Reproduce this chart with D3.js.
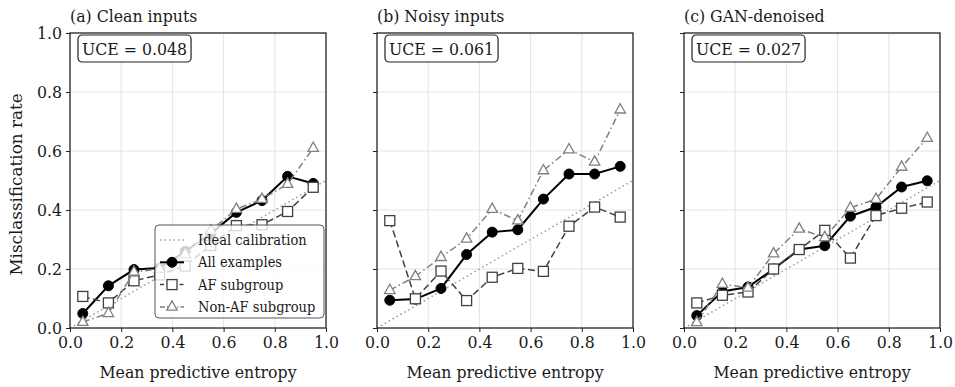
<!DOCTYPE html>
<html>
<head>
<meta charset="utf-8">
<script src="https://cdn.jsdelivr.net/npm/d3@7"></script>
<style>
body { margin: 0; background: #fff; }
text { font-family: "DejaVu Serif Condensed", "DejaVu Serif", serif; font-stretch: condensed; }
</style>
</head>
<body>
<div id="chart"></div>
<script>
// bin centres (mean predictive entropy)
var bins = [0.05, 0.15, 0.25, 0.35, 0.45, 0.55, 0.65, 0.75, 0.85, 0.95]

var panelTitles = ["(a) Clean inputs", "(b) Noisy inputs", "(c) GAN-denoised"]
var uceValues = ["0.048", "0.061", "0.027"]

var allClean = [0.049, 0.143, 0.198, 0.203, 0.26, 0.32, 0.392, 0.432, 0.514, 0.49]
var afClean = [0.107, 0.085, 0.16, 0.18, 0.21, 0.28, 0.347, 0.35, 0.395, 0.477]
var nonAfClean = [0.02, 0.05, 0.19, 0.2, 0.25, 0.33, 0.403, 0.437, 0.488, 0.61]

var allNoisy = [0.094, 0.098, 0.134, 0.249, 0.325, 0.333, 0.437, 0.522, 0.522, 0.548]
var afNoisy = [0.364, 0.099, 0.193, 0.093, 0.172, 0.202, 0.192, 0.345, 0.41, 0.376]
var nonAfNoisy = [0.128, 0.175, 0.24, 0.302, 0.403, 0.364, 0.534, 0.605, 0.563, 0.74]

var allGan = [0.042, 0.124, 0.139, 0.2, 0.266, 0.279, 0.379, 0.41, 0.478, 0.499]
var afGan = [0.085, 0.111, 0.122, 0.2, 0.266, 0.331, 0.237, 0.381, 0.406, 0.427]
var nonAfGan = [0.019, 0.149, 0.136, 0.252, 0.336, 0.307, 0.407, 0.437, 0.546, 0.644]

var ticks = [0, 0.2, 0.4, 0.6, 0.8, 1.0]
var idealLine = [[0, 0], [1, 0.5]]
var legendLabels = ["Ideal calibration", "All examples", "AF subgroup", "Non-AF subgroup"]

var panels = [
    { all: allClean, af: afClean, nonAf: nonAfClean },
    { all: allNoisy, af: afNoisy, nonAf: nonAfNoisy },
    { all: allGan, af: afGan, nonAf: nonAfGan }
]

var svgWidth = 955
var svgHeight = 387
var panelLeft = [70, 377, 684]
var panelWidth = 256
var panelTop = 33
var chartHeight = 295
var fontSize = "17.5px"

var svg = d3.select("#chart")
    .append("svg")
    .attr("width", svgWidth)
    .attr("height", svgHeight)

var styles = {
    ideal: { stroke: "#9a9a9a", dash: "1.5,3", width: 1.5 },
    all: { stroke: "#000", dash: null, width: 2 },
    af: { stroke: "#404040", dash: "7,3.5", width: 1.5 },
    nonAf: { stroke: "#808080", dash: "7,3,1.5,3", width: 1.5 }
}

function drawMarker(g, kind, x, y) {
    if (kind === "all") {
        g.append("circle").attr("cx", x).attr("cy", y).attr("r", 5)
            .attr("fill", "#000").attr("stroke", "#000")
    } else if (kind === "af") {
        g.append("rect").attr("x", x - 5).attr("y", y - 5).attr("width", 10).attr("height", 10)
            .attr("fill", "#fff").attr("stroke", "#404040").attr("stroke-width", 1.3)
    } else {
        var s = 6
        g.append("path")
            .attr("d", `M${x},${y - s} L${x + s * 0.87},${y + s * 0.55} L${x - s * 0.87},${y + s * 0.55} Z`)
            .attr("fill", "#fff").attr("stroke", "#808080").attr("stroke-width", 1.3)
    }
}

panels.forEach(function (p, i) {
    var xScale = d3.scaleLinear().domain([0, 1]).range([0, panelWidth])
    var yScale = d3.scaleLinear().domain([0, 1]).range([chartHeight, 0])

    var g = svg.append("g")
        .attr("transform", `translate(${panelLeft[i]},${panelTop})`)

    // grid
    g.append("g").selectAll("line.gx").data(ticks.slice(1, -1)).enter()
        .append("line")
        .attr("x1", d => xScale(d)).attr("x2", d => xScale(d))
        .attr("y1", 0).attr("y2", chartHeight)
        .attr("stroke", "#e3e3e3").attr("stroke-width", 1)
    g.append("g").selectAll("line.gy").data(ticks.slice(1, -1)).enter()
        .append("line")
        .attr("y1", d => yScale(d)).attr("y2", d => yScale(d))
        .attr("x1", 0).attr("x2", panelWidth)
        .attr("stroke", "#e3e3e3").attr("stroke-width", 1)

    var line = d3.line().x(d => xScale(d[0])).y(d => yScale(d[1]))

    var clip = "clip" + i
    g.append("clipPath").attr("id", clip).append("rect")
        .attr("width", panelWidth).attr("height", chartHeight)

    var plot = g.append("g").attr("clip-path", `url(#${clip})`)
    plot.append("path")
        .datum(idealLine)
        .attr("d", line)
        .attr("fill", "none")
        .attr("stroke", styles.ideal.stroke)
        .attr("stroke-width", styles.ideal.width)
        .attr("stroke-dasharray", styles.ideal.dash)

    var marks = g.append("g")
    ;["all", "af", "nonAf"].forEach(function (kind) {
        var pts = bins.map((b, j) => [b, p[kind][j]])
        marks.append("path")
            .datum(pts)
            .attr("d", line)
            .attr("fill", "none")
            .attr("stroke", styles[kind].stroke)
            .attr("stroke-width", styles[kind].width)
            .attr("stroke-dasharray", styles[kind].dash)
        pts.forEach(d => drawMarker(marks, kind, xScale(d[0]), yScale(d[1])))
    })

    // axes
    var bottomAxis = d3.axisBottom(xScale).tickValues(ticks).tickFormat(d3.format(".1f"))
        .tickSize(4).tickPadding(4)
    var leftAxis = d3.axisLeft(yScale).tickValues(ticks).tickFormat(i === 0 ? d3.format(".1f") : "")
        .tickSize(4).tickPadding(4)
    var xAxis = g.append("g").attr("transform", `translate(0,${chartHeight})`).call(bottomAxis)
    var yAxis = g.append("g").call(leftAxis)
    ;[xAxis, yAxis].forEach(function (ax) {
        ax.select(".domain").remove()
        ax.selectAll("line").attr("stroke", "#222")
        ax.selectAll("text").attr("font-size", fontSize).attr("fill", "#1a1a1a")
            .attr("font-family", null)
    })

    g.append("rect")
        .attr("width", panelWidth).attr("height", chartHeight)
        .attr("fill", "none").attr("stroke", "#222").attr("stroke-width", 1.3)

    // title
    g.append("text")
        .attr("x", 0).attr("y", -11)
        .attr("font-size", fontSize).attr("fill", "#1a1a1a")
        .text(panelTitles[i])

    g.append("text")
        .attr("x", panelWidth / 2).attr("y", chartHeight + 50)
        .attr("text-anchor", "middle")
        .attr("font-size", fontSize).attr("fill", "#1a1a1a")
        .text("Mean predictive entropy")

    // UCE box
    var uce = g.append("g").attr("transform", "translate(6,2)")
    var uceText = uce.append("text")
        .attr("x", 6).attr("y", 20)
        .attr("font-size", fontSize).attr("fill", "#1a1a1a")
        .text("UCE = " + uceValues[i])
    var bb = uceText.node().getBBox()
    uce.insert("rect", "text")
        .attr("x", bb.x - 4).attr("y", 0)
        .attr("width", bb.width + 8).attr("height", 27)
        .attr("rx", 4)
        .attr("fill", "#fff").attr("stroke", "#222").attr("stroke-width", 1.2)

    if (i === 0) {
        var lg = g.append("g").attr("transform", `translate(${85},${192})`)
        lg.append("rect")
            .attr("width", 169).attr("height", 93).attr("rx", 4)
            .attr("fill", "#fff").attr("fill-opacity", 0.8)
            .attr("stroke", "#555").attr("stroke-width", 1)
        var kinds = ["ideal", "all", "af", "nonAf"]
        kinds.forEach(function (kind, k) {
            var y = 15 + k * 22.3
            lg.append("line")
                .attr("x1", 5).attr("x2", 29).attr("y1", y).attr("y2", y)
                .attr("stroke", styles[kind].stroke)
                .attr("stroke-width", styles[kind].width)
                .attr("stroke-dasharray", kind === "af" ? "4,2.5" : kind === "nonAf" ? "5,2,1.2,2" : styles[kind].dash)
            if (kind !== "ideal") drawMarker(lg, kind, 17, y)
            lg.append("text")
                .attr("x", 43).attr("y", y + 5)
                .attr("font-size", "14.5px").attr("fill", "#1a1a1a")
                .text(legendLabels[k])
        })
    }
})

// vertical label keeps the regular width (only horizontal text looks squeezed)
svg.append("text")
    .attr("transform", `translate(22,${panelTop + chartHeight / 2 + 4}) rotate(-90)`)
    .attr("text-anchor", "middle")
    .attr("font-size", "16.8px").attr("fill", "#1a1a1a")
    .style("font-family", "'DejaVu Serif', serif")
    .style("font-stretch", "normal")
    .text("Misclassification rate")
</script>
</body>
</html>
